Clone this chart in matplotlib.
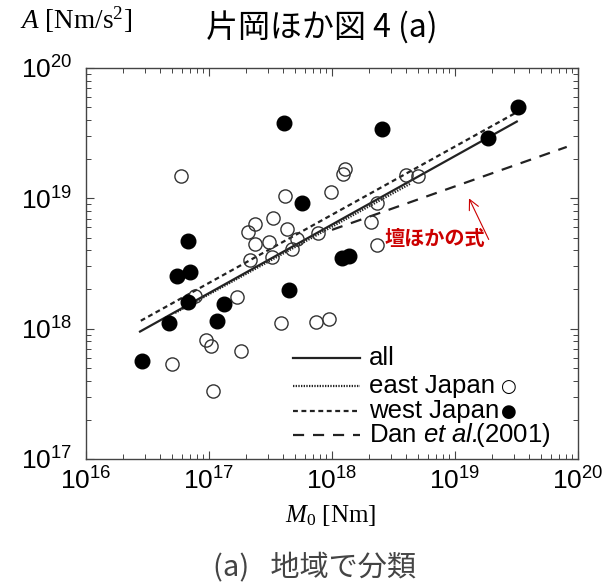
import matplotlib
matplotlib.use("Agg")
import matplotlib.pyplot as plt

# east Japan events (open circles)
east_m0 = [5.9e16, 4.15e17, 9.8e17, 1.28e18, 1.24e18, 3.3e17, 2.37e17, 2.09e17,
           4.27e17, 2.37e17, 3.06e17, 4.0e18, 5.04e18, 2.31e18, 2.06e18, 2.31e18,
           7.75e17, 5.17e17, 4.7e17, 2.15e17, 7.7e16, 1.7e17, 3.83e17, 7.4e17,
           9.46e17, 9.46e16, 1.04e17, 1.81e17, 5.04e16, 1.08e17, 3.24e17]
east_a = [1.49e19, 1.04e19, 1.12e19, 1.67e19, 1.54e19, 7.08e18, 6.3e18, 5.55e18,
          5.8e18, 4.43e18, 4.6e18, 1.51e19, 1.49e19, 9.14e18, 6.6e18, 4.36e18,
          5.4e18, 4.85e18, 4.06e18, 3.37e18, 1.78e18, 1.76e18, 1.11e18, 1.13e18,
          1.18e18, 8.2e17, 7.4e17, 6.78e17, 5.33e17, 3.34e17, 3.57e18]

# west Japan events (filled circles)
west_m0 = [4.1e17, 5.7e17, 6.8e16, 7.0e16, 5.5e16, 6.8e16, 4.7e16, 1.33e17,
           1.17e17, 4.47e17, 2.84e16, 1.2e18, 1.38e18, 3.25e19, 2.54e18, 1.87e19]
west_a = [3.8e19, 9.2e18, 4.7e18, 2.7e18, 2.55e18, 1.61e18, 1.11e18, 1.55e18,
          1.15e18, 1.98e18, 5.65e17, 3.47e18, 3.6e18, 4.99e19, 3.39e19, 2.89e19]

# regression lines (end points)
all_m0, all_a = [2.75e16, 3.18e19], [9.5e17, 3.88e19]
eastfit_m0, eastfit_a = [5.3e16, 4.3e18], [1.32e18, 1.29e19]
westfit_m0, westfit_a = [2.79e16, 3.08e19], [1.15e18, 4.5e19]
dan_m0, dan_a = [1.0e18, 8.1e19], [5.73e18, 2.48e19]

legend_labels = ["all", "east Japan", "west Japan", r"Dan $\mathsf{et\ al.}\!\!$(2001)"]

plt.rcParams["font.family"] = ["Liberation Sans", "DejaVu Sans"]
plt.rcParams["mathtext.fontset"] = "custom"
plt.rcParams["mathtext.rm"] = "Liberation Serif"
plt.rcParams["mathtext.it"] = "Liberation Serif:italic"
plt.rcParams["mathtext.sf"] = "Liberation Sans:italic"

fig = plt.figure(figsize=(6.16, 5.83), dpi=100)
ax = fig.add_axes([0.1396, 0.2127, 0.7987, 0.6707])

ink = "#222222"
styles = {
    "all": dict(ls="-", lw=1.6),
    "east": dict(ls=(0, (0.6, 0.6)), lw=1.6),
    "west": dict(ls=(0, (2.2, 1.6)), lw=1.6),
    "dan": dict(ls=(0, (5, 4)), lw=1.6),
}
ax.plot(all_m0, all_a, color=ink, **styles["all"])
ax.plot(eastfit_m0, eastfit_a, color=ink, **styles["east"])
ax.plot(westfit_m0, westfit_a, color=ink, **styles["west"])
ax.plot(dan_m0, dan_a, color=ink, **styles["dan"])

ax.plot(east_m0, east_a, "o", ms=9.5, mfc="none", mec="#333333", mew=1.0, ls="none")
ax.plot(west_m0, west_a, "o", ms=10.5, mfc="black", mec="black", ls="none")

ax.set_xscale("log")
ax.set_yscale("log")
ax.set_xlim(1e16, 1e20)
ax.set_ylim(1e17, 1e20)
ax.tick_params(which="both", direction="in", top=True, right=True,
               colors="#444444", labelcolor="black", labelsize=19)
ax.tick_params(which="major", length=6, width=0.8)
ax.tick_params(which="minor", length=3.5, width=0.7)
ax.tick_params(axis="y", pad=10)
ax.tick_params(axis="x", pad=6)
for s in ax.spines.values():
    s.set_color("#444444")
    s.set_linewidth(1.0)

# hand-drawn legend
rows_y = [0.258, 0.187, 0.123, 0.061]
keys = ["all", "east", "west", "dan"]
texts = []
for key, lab, y in zip(keys, legend_labels, rows_y):
    ax.plot([0.421, 0.557], [y, y], transform=ax.transAxes, color=ink, **styles[key])
    t = ax.text(0.575, y, lab, transform=ax.transAxes, fontsize=18.5,
                va="center", ha="left")
    texts.append(t)
ax.annotate("○", xy=(1, 0.5), xycoords=texts[1], xytext=(4, -1),
            textcoords="offset points", va="center", fontsize=13,
            family="DejaVu Sans")
ax.annotate("●", xy=(1, 0.5), xycoords=texts[2], xytext=(1, -1),
            textcoords="offset points", va="center", fontsize=13,
            family="DejaVu Sans")

# red annotation
ax.text(0.709, 0.565, "壇ほかの式", transform=ax.transAxes, color="#cc0000",
        fontsize=14.5, fontweight="bold", ha="center", va="center",
        family=["Noto Sans CJK JP", "DejaVu Sans"])
ax.annotate("", xy=(0.776, 0.673), xytext=(0.821, 0.555),
            xycoords="axes fraction", textcoords="axes fraction",
            arrowprops=dict(arrowstyle="->", color="#cc0000", lw=0.8,
                            mutation_scale=18))

fig.text(0.032, 0.966, r"$A$ [Nm/s$^2$]", fontsize=19.5, ha="left", va="center",
         family="Liberation Serif")
fig.text(0.523, 0.952, "片岡ほか図 4 (a)", fontsize=23, ha="center", va="center",
         family=["Noto Sans CJK JP", "DejaVu Sans"])
fig.text(0.536, 0.115, r"$M_0$ [Nm]", fontsize=18, ha="center", va="center",
         family="Liberation Serif")
fig.text(0.51, 0.026, "(a)\u2002 地域で分類", fontsize=21, ha="center", va="center",
         color="#444444", family=["Noto Sans CJK JP", "DejaVu Sans"])

fig.savefig("out.png", dpi=100)
